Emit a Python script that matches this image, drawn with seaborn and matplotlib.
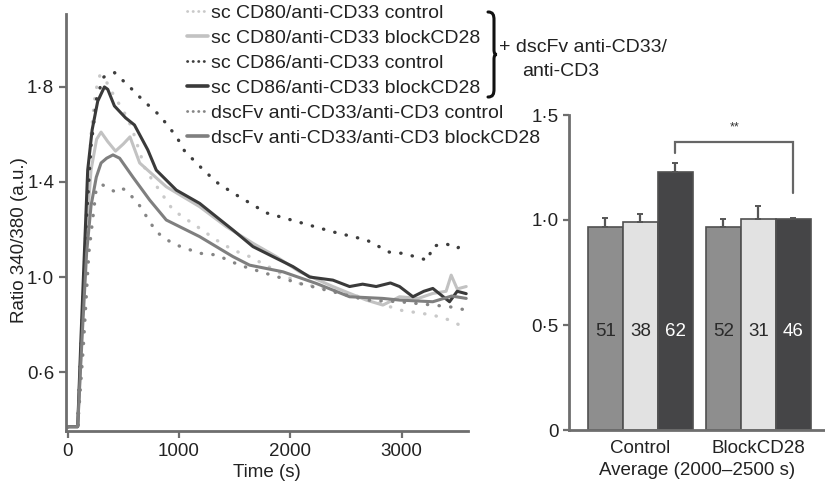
"""
Calcium flux traces (ratio 340/380) with an inset bar chart of the
2000-2500 s average.
"""
import numpy as np
import pandas as pd
import matplotlib
matplotlib.use("Agg")
import matplotlib.pyplot as plt
import seaborn as sns
from matplotlib.lines import Line2D
from matplotlib.path import Path
from matplotlib.patches import PathPatch

# ---- time traces ----
t_cd80_ctrl = [0, 90, 130, 170, 210, 250, 290, 350, 420, 500, 575, 700, 946, 1186, 1335,
               1485, 1635, 2084, 2383, 2683, 2982, 3281, 3431, 3581]
v_cd80_ctrl = [0.37, 0.37, 0.8, 1.3, 1.6, 1.78, 1.85, 1.82, 1.76, 1.70, 1.63, 1.45, 1.282,
               1.205, 1.156, 1.114, 1.086, 0.973, 0.945, 0.91, 0.861, 0.84, 0.819, 0.784]

t_cd80_block = [0, 90, 130, 170, 210, 260, 300, 360, 430, 500, 560, 647, 886, 1186, 1425,
                1665, 1874, 2084, 2383, 2683, 2832, 2982, 3150, 3281, 3400, 3446, 3500, 3581]
v_cd80_block = [0.37, 0.37, 0.8, 1.2, 1.45, 1.58, 1.61, 1.57, 1.53, 1.56, 1.59, 1.48, 1.38,
                1.296, 1.212, 1.142, 1.086, 1.022, 0.96, 0.903, 0.882, 0.917, 0.91, 0.931,
                0.94, 1.008, 0.95, 0.96]

t_cd86_ctrl = [0, 90, 130, 170, 210, 260, 320, 350, 422, 557, 674, 827, 979, 1051, 1200,
               1335, 1485, 1785, 2085, 2385, 2685, 2890, 3000, 3130, 3235, 3280, 3400, 3500, 3581]
v_cd86_ctrl = [0.37, 0.37, 0.8, 1.25, 1.55, 1.75, 1.84, 1.85, 1.86, 1.80, 1.745, 1.68, 1.59,
               1.53, 1.46, 1.40, 1.354, 1.27, 1.23, 1.19, 1.156, 1.105, 1.10, 1.085, 1.07,
               1.13, 1.14, 1.12, 1.155]

t_cd86_block = [0, 90, 120, 150, 180, 220, 270, 330, 360, 420, 520, 600, 720, 796, 976, 1186,
                1335, 1485, 1665, 1844, 2024, 2174, 2383, 2533, 2650, 2772, 2900, 2982, 3102,
                3200, 3281, 3431, 3500, 3581]
v_cd86_block = [0.37, 0.37, 0.75, 1.10, 1.45, 1.62, 1.74, 1.80, 1.79, 1.72, 1.67, 1.64, 1.535,
                1.45, 1.366, 1.31, 1.254, 1.198, 1.128, 1.086, 1.044, 1.0, 0.987, 0.96, 0.97,
                0.96, 0.975, 0.96, 0.917, 0.94, 0.952, 0.896, 0.94, 0.93]

t_dsc_ctrl = [0, 90, 140, 190, 257, 317, 377, 422, 470, 527, 647, 796, 946, 1186, 1335, 1545,
              1784, 2084, 2383, 2683, 2982, 3281, 3431, 3581]
v_dsc_ctrl = [0.37, 0.37, 0.7, 1.1, 1.373, 1.387, 1.37, 1.36, 1.375, 1.366, 1.30, 1.19, 1.14,
              1.10, 1.093, 1.05, 1.015, 0.973, 0.938, 0.903, 0.896, 0.882, 0.875, 0.861]

t_dsc_block = [0, 90, 130, 170, 210, 257, 300, 350, 407, 467, 587, 737, 886, 1186, 1485, 1635,
               1934, 2234, 2533, 2832, 2982, 3281, 3450, 3581]
v_dsc_block = [0.37, 0.37, 0.75, 1.1, 1.3, 1.42, 1.48, 1.50, 1.514, 1.50, 1.42, 1.324, 1.24,
               1.17, 1.086, 1.05, 1.022, 0.973, 0.917, 0.91, 0.903, 0.896, 0.92, 0.91]

series_labels = [
    "sc CD80/anti-CD33 control",
    "sc CD80/anti-CD33 blockCD28",
    "sc CD86/anti-CD33 control",
    "sc CD86/anti-CD33 blockCD28",
    "dscFv anti-CD33/anti-CD3 control",
    "dscFv anti-CD33/anti-CD3 blockCD28",
]
series_t = [t_cd80_ctrl, t_cd80_block, t_cd86_ctrl, t_cd86_block, t_dsc_ctrl, t_dsc_block]
series_v = [v_cd80_ctrl, v_cd80_block, v_cd86_ctrl, v_cd86_block, v_dsc_ctrl, v_dsc_block]
series_colors = ["#c9c9c9", "#c2c2c2", "#3d3d3d", "#3a3a3a", "#858585", "#7f7f7f"]
series_dotted = [True, False, True, False, True, False]

y_ticks = [0.6, 1.0, 1.4, 1.8]
y_tick_labels = ["0·6", "1·0", "1·4", "1·8"]
x_ticks = [0, 1000, 2000, 3000]

# ---- bar chart: average 2000-2500 s ----
groups = ["Control", "BlockCD28"]
bar_hues = ["CD80", "dscFv", "CD86"]
bar_means = [[0.967, 0.99, 1.23], [0.966, 1.005, 1.005]]
bar_err_top = [[1.01, 1.03, 1.27], [1.005, 1.067, 1.01]]
bar_counts = [["51", "38", "62"], ["52", "31", "46"]]
bar_colors = ["#8e8e8e", "#e2e2e2", "#454547"]
count_colors = ["#2a2a2a", "#2a2a2a", "white"]
bar_y_ticks = [0, 0.5, 1.0, 1.5]
bar_y_labels = ["0", "0·5", "1·0", "1·5"]

sns.set_style("ticks")
plt.rcParams["font.family"] = ["Liberation Sans", "DejaVu Sans"]
axis_grey = "#6e6e6e"
text_col = "#222222"
FS = 13.5
LEG_FS = 14

fig = plt.figure(figsize=(8.25, 4.86), dpi=100)
W, H = 825, 486
ax1 = fig.add_axes([66 / W, 1 - 431 / H, 402 / W, (431 - 14) / H])
ax2 = fig.add_axes([569 / W, 1 - 430 / H, 256 / W, (430 - 115) / H])

# ---- traces ----
for t, v, col, dotted in zip(series_t, series_v, series_colors, series_dotted):
    if dotted:
        sns.lineplot(x=t, y=v, ax=ax1, color=col, lw=2.4, linestyle=(0, (0.1, 3.4)),
                     dash_capstyle="round")
    else:
        sns.lineplot(x=t, y=v, ax=ax1, color=col, lw=2.2)

ax1.set_xlim(-15, 3597)
ax1.set_ylim(0.352, 2.107)
ax1.set_xticks(x_ticks)
ax1.set_yticks(y_ticks)
ax1.set_yticklabels(y_tick_labels)
for s in ["top", "right"]:
    ax1.spines[s].set_visible(False)
for s in ["left", "bottom"]:
    ax1.spines[s].set_color(axis_grey)
    ax1.spines[s].set_linewidth(2.0)
ax1.tick_params(colors=axis_grey, labelcolor=text_col, labelsize=FS, width=1.6, length=5)
ax1.set_xlabel("Time (s)", fontsize=FS, color=text_col, labelpad=3)
ax1.set_ylabel("")
fig.text(20 / W, 1 - 240 / H, "Ratio 340/380 (a.u.)", rotation=90, ha="center", va="center",
         fontsize=FS, color=text_col)

# legend with fine dotted samples
handles = []
for col, dotted in zip(series_colors, series_dotted):
    if dotted:
        handles.append(Line2D([], [], color=col, lw=2.0, linestyle=(0, (0.1, 1.9)),
                              dash_capstyle="round"))
    else:
        handles.append(Line2D([], [], color=col, lw=2.6))
leg = ax1.legend(handles, series_labels, loc="upper left", bbox_to_anchor=(187 / W, 1 - 4 / H),
                 bbox_transform=fig.transFigure, frameon=False, fontsize=LEG_FS, borderpad=0,
                 borderaxespad=0, handlelength=1.1, handletextpad=0.12, labelspacing=0.38)
for txt in leg.get_texts():
    txt.set_color(text_col)

# curly brace and combined label
def px(x, y):
    return (x / W, 1 - y / H)

bx, tip, top, bot = 488, 497, 12, 97
mid = (top + bot) / 2
verts = [px(bx, top), px(bx + 5, top), px(bx + 6, top + 3), px(bx + 6, top + 8),
         px(bx + 6, mid - 5),
         px(bx + 6, mid - 1), px(bx + 7, mid), px(tip, mid),
         px(bx + 7, mid), px(bx + 6, mid + 1), px(bx + 6, mid + 5),
         px(bx + 6, bot - 8),
         px(bx + 6, bot - 3), px(bx + 5, bot), px(bx, bot)]
codes = [Path.MOVETO, Path.CURVE4, Path.CURVE4, Path.CURVE4, Path.LINETO,
         Path.CURVE4, Path.CURVE4, Path.CURVE4,
         Path.CURVE4, Path.CURVE4, Path.CURVE4, Path.LINETO,
         Path.CURVE4, Path.CURVE4, Path.CURVE4]
fig.patches.append(PathPatch(Path(verts, codes), transform=fig.transFigure, fill=False,
                             lw=2.2, color="#111111", capstyle="round"))
fig.text(499 / W, 1 - 48 / H, "+ dscFv anti-CD33/", fontsize=LEG_FS, va="center", ha="left",
         color=text_col)
fig.text(599 / W, 1 - 71 / H, "anti-CD3", fontsize=LEG_FS, va="center", ha="right",
         color=text_col)

# ---- bar chart ----
bar_df = pd.DataFrame({
    "group": [g for g in groups for _ in bar_hues],
    "series": bar_hues * len(groups),
    "mean": [m for row in bar_means for m in row],
})
sns.barplot(data=bar_df, x="group", y="mean", hue="series", order=groups,
            hue_order=bar_hues, palette=bar_colors, width=0.89, errorbar=None,
            edgecolor="#505050", linewidth=1.2, legend=False, ax=ax2, saturation=1)

bars = sorted(ax2.patches, key=lambda p: p.get_x())
flat_err = [e for row in bar_err_top for e in row]
flat_cnt = [c for row in bar_counts for c in row]
flat_cnt_col = count_colors * len(groups)
centers = [p.get_x() + p.get_width() / 2 for p in bars]
heights = [p.get_height() for p in bars]
ax2.errorbar(centers, heights, yerr=[np.zeros(len(heights)), np.array(flat_err) - heights],
             fmt="none", ecolor="#555555", elinewidth=1.6, capsize=2, capthick=1.4, zorder=1)
for cx, cnt, cc in zip(centers, flat_cnt, flat_cnt_col):
    ax2.text(cx, 0.47, cnt, ha="center", va="center", fontsize=FS, color=cc)

# significance bracket between Control/CD86 and BlockCD28/CD86
bl, br = centers[2], centers[5]
ax2.plot([bl, bl, br, br], [1.319, 1.371, 1.371, 1.129], color="#666666", lw=1.6,
         solid_joinstyle="miter")
ax2.text((bl + br) / 2, 1.44, "**", ha="center", va="center", fontsize=9, color="#333333")

ax2.set_xlim(-0.606, 1.564)
ax2.set_ylim(0, 1.5)
ax2.set_yticks(bar_y_ticks)
ax2.set_yticklabels(bar_y_labels)
for s in ["top", "right"]:
    ax2.spines[s].set_visible(False)
for s in ["left", "bottom"]:
    ax2.spines[s].set_color(axis_grey)
    ax2.spines[s].set_linewidth(2.0)
ax2.tick_params(axis="y", colors=axis_grey, labelcolor=text_col, labelsize=FS, width=1.6,
                length=4)
ax2.tick_params(axis="x", length=0, labelsize=FS, labelcolor=text_col, pad=7)
ax2.set_xlabel("Average (2000–2500 s)", fontsize=FS, color=text_col, labelpad=4)
ax2.set_ylabel("")

fig.savefig("out.png", dpi=100)
